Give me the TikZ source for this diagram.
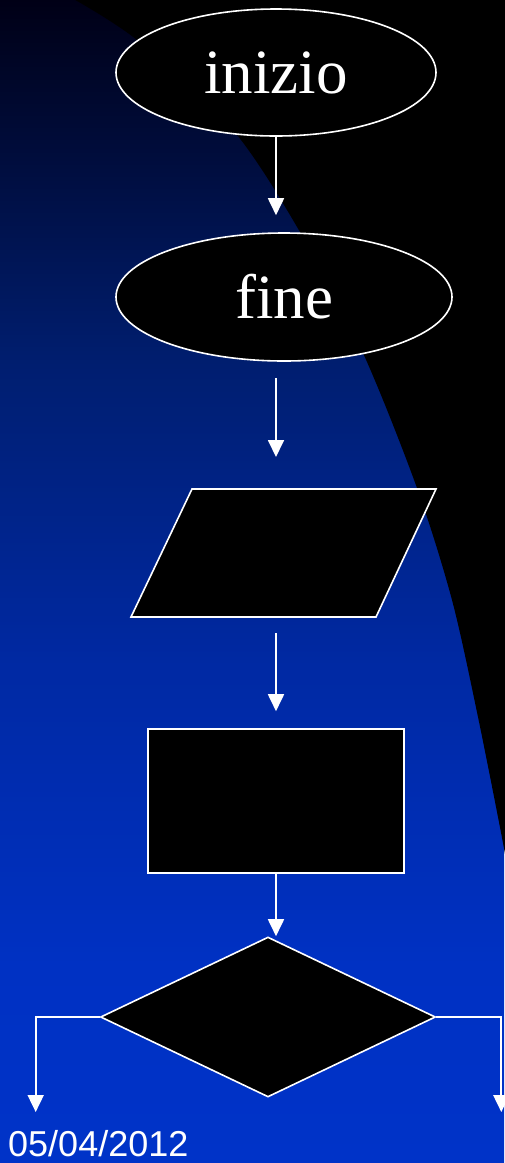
\documentclass[tikz,border=0pt]{standalone}
\usepackage{fontspec}
\setmainfont{Liberation Serif}
\newfontfamily\datefont{Liberation Sans}
\usetikzlibrary{shapes.geometric,arrows.meta}
\definecolor{bgtop}{RGB}{0,0,22}
\definecolor{bgA}{RGB}{0,30,112}
\definecolor{bgB}{RGB}{0,41,163}
\definecolor{bgC}{RGB}{0,49,195}
\definecolor{bgbot}{RGB}{0,51,200}
\pgfdeclareverticalshading{bgshade}{100bp}{color(0bp)=(bgbot); color(25bp)=(bgbot); color(33.5bp)=(bgC); color(46.4bp)=(bgB); color(59.3bp)=(bgA); color(75bp)=(bgtop); color(100bp)=(bgtop)}
\begin{document}
\begin{tikzpicture}[x=1pt,y=-1pt,
  blk/.style={draw=white,fill=black,line width=1.6pt,inner sep=0pt},
  term/.style={blk,ellipse,font=\fontsize{63}{70}\selectfont,text=white},
  arr/.style={draw=white,line width=1.8pt,-{Triangle[length=17pt,width=16pt]}}]
\useasboundingbox (0,0) rectangle (504,1163);
% background
\shade[shading=bgshade] (0,0) rectangle (504,1163);
\fill[black] plot[smooth] coordinates {(70,-3) (137,40) (233,130) (300,232) (363,353) (417,488) (452,600) (478,717) (503,843) (510,885)} -- (512,-5) -- cycle;
% shapes
\node[term,minimum width=320pt,minimum height=127pt] (inizio) at (276,72.5) {inizio};
\node[term,minimum width=336pt,minimum height=128pt] (fine) at (284,297) {fine};
\coordinate (pTL) at (192,489);
\coordinate (pTR) at (436,489);
\coordinate (pBR) at (376,617);
\coordinate (pBL) at (131,617);
\draw[blk] (pTL) -- (pTR) -- (pBR) -- (pBL) -- cycle;
\node[blk,rectangle,minimum width=256pt,minimum height=144pt] (box) at (276,801) {};
\node[blk,diamond,minimum width=335pt,minimum height=160pt] (dia) at (268,1017) {};
% connectors
\draw[arr,shorten >=17pt] (inizio.south) -- (inizio.south |- fine.north);
\draw[arr,shorten <=16pt,shorten >=32pt] (inizio.south |- fine.south) -- (inizio.south |- pTL);
\draw[arr,shorten <=16pt,shorten >=17pt] (inizio.south |- pBL) -- (box.north);
\draw[arr] (box.south) -- (box.south |- dia.north);
\draw[arr] (dia.west) -- ++(-64,0) -- ++(0,95);
\draw[arr] (dia.east) -- ++(65,0) -- ++(0,95);
% date
\node[anchor=base west,text=white,font=\datefont\fontsize{36}{40}\selectfont,inner sep=0pt] (date) at (8,1156) {05/04/2012};
\end{tikzpicture}
\end{document}
